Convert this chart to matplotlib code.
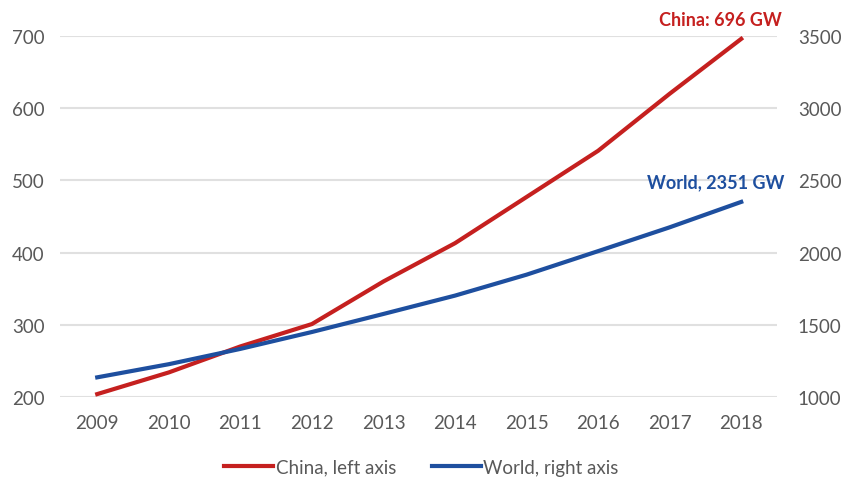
import matplotlib.pyplot as plt

years = [2009, 2010, 2011, 2012, 2013, 2014, 2015, 2016, 2017, 2018]
china = [204, 234, 270, 301, 360, 413, 477, 541, 620, 696]      # GW, left axis
world = [1136, 1227, 1333, 1450, 1575, 1702, 1847, 2010, 2175, 2351]  # GW, right axis

left_ticks = [200, 300, 400, 500, 600, 700]
right_ticks = [1000, 1500, 2000, 2500, 3000, 3500]

red = '#C5201F'
blue = '#1E4F9F'
grey = '#595959'

plt.rcParams['font.family'] = ['Lato', 'DejaVu Sans']

fig = plt.figure(figsize=(8.43, 4.81), dpi=100)
ax = fig.add_axes([0.0712, 0.1726, 0.8505, 0.7505])
ax2 = ax.twinx()

l1, = ax.plot(years, china, color=red, lw=3, label='China, left axis', zorder=3)
l2, = ax2.plot(years, world, color=blue, lw=3, label='World, right axis', zorder=3)

ax.set_xlim(2008.48, 2018.5)
ax.set_ylim(200, 700)
ax2.set_ylim(1000, 3500)
ax.set_xticks(years)
ax.set_yticks(left_ticks)
ax2.set_yticks(right_ticks)

ax.grid(axis='y', color='#E0E0E0', lw=1.5)
ax.set_axisbelow(True)
for a in (ax, ax2):
    for s in a.spines.values():
        s.set_visible(False)

ax.tick_params(axis='x', length=0, pad=12, labelsize=13.5, labelcolor=grey)
ax.tick_params(axis='y', length=0, pad=11, labelsize=13.5, labelcolor=grey)
ax2.tick_params(axis='y', length=0, pad=15, labelsize=13.5, labelcolor=grey)

ax.text(2018.57, 723, 'China: 696 GW', color=red, fontsize=13, fontweight='bold',
        ha='right', va='center', clip_on=False)
ax2.text(2018.6, 2490, 'World, 2351 GW', color=blue, fontsize=13, fontweight='bold',
         ha='right', va='center', clip_on=False)

fig.legend(handles=[l1, l2], loc='center', bbox_to_anchor=(0.5, 0.027), ncol=2,
           frameon=False, fontsize=13.5, handlelength=2.6, handletextpad=0.15,
           columnspacing=1.9, labelcolor=grey)

fig.savefig('out.png', dpi=100)
